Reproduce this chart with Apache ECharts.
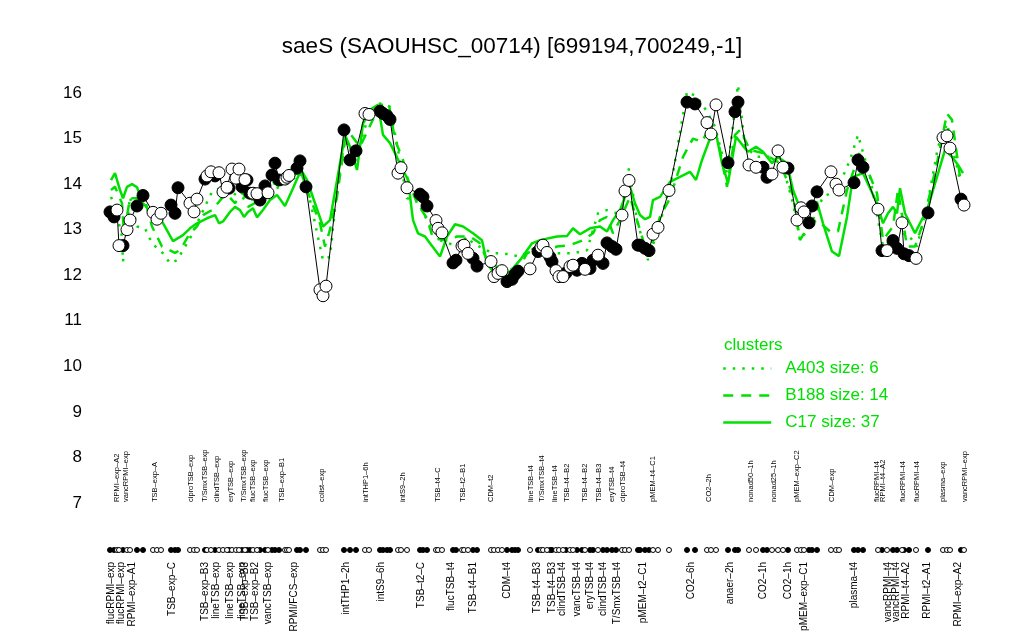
<!DOCTYPE html>
<html>
<head>
<meta charset="utf-8">
<title>saeS</title>
<script src="https://cdn.jsdelivr.net/npm/echarts@6/dist/echarts.min.js"></script>
<style>
  html, body { margin: 0; padding: 0; background: #fff; }
  #chart { width: 1024px; height: 640px; }
</style>
</head>
<body>
<div id="chart"></div>
<script>
// condition position (along the x scale), expression level, filled marker or not
var ptX = [
  110,114,117,119,123,127,130,137,143,153,
  157,161,171,175,178,190,194,197,205,207,
  211,215,219,223,227,229,232,236,239,242,
  245,247,250,253,257,260,265,268,272,275,
  279,285,287,289,297,300,306,320,323,326,
  344,350,356,365,369,380,383,387,390,398,
  401,407,420,423,427,436,438,442,453,456,
  462,464,468,473,477,491,494,498,502,507,
  512,515,518,530,538,541,543,547,550,552,
  556,559,563,566,570,573,577,582,585,590,
  593,598,603,607,612,616,622,625,629,638,
  640,645,649,653,658,669,687,695,707,711,
  716,728,735,738,749,756,763,767,772,778,
  783,788,797,801,804,809,812,817,831,836,
  839,854,858,863,878,882,887,893,897,902,
  904,909,916,928,943,947,950,961,964
];
var ptY = [
  13.39,13.28,13.43,12.65,12.65,13.00,13.21,13.52,13.75,13.38,
  13.23,13.36,13.54,13.36,13.92,13.58,13.39,13.67,14.11,14.18,
  14.27,14.18,14.25,13.83,13.93,13.91,14.33,14.13,14.33,13.94,
  14.10,14.09,13.80,13.80,13.79,13.65,13.96,13.81,14.20,14.46,
  14.09,14.11,14.15,14.19,14.35,14.51,13.94,11.68,11.55,11.76,
  15.19,14.53,14.73,15.55,15.53,15.60,15.55,15.50,15.42,14.24,
  14.36,13.92,13.78,13.72,13.52,13.20,13.03,12.93,12.27,12.33,
  12.64,12.66,12.48,12.37,12.20,12.30,11.97,12.04,12.10,11.86,
  11.91,12.02,12.09,12.14,12.52,12.62,12.66,12.50,12.40,12.30,
  12.10,11.97,11.97,12.05,12.19,12.22,12.11,12.26,12.13,12.15,
  12.33,12.44,12.26,12.71,12.63,12.57,13.32,13.85,14.08,12.66,
  12.66,12.59,12.54,12.90,13.05,13.86,15.80,15.76,15.35,15.10,
  15.74,14.47,15.59,15.80,14.42,14.37,14.37,14.15,14.22,14.73,
  14.37,14.35,13.21,13.48,13.39,13.15,13.52,13.83,14.27,14.00,
  13.87,14.03,14.53,14.37,13.45,12.54,12.54,12.76,12.59,13.15,
  12.47,12.43,12.37,13.37,15.02,15.06,14.79,13.67,13.54
];
var ptFilled = [
  1,1,0,0,1,0,0,1,1,0,
  0,0,1,1,1,0,0,0,1,0,
  0,1,0,0,0,1,0,0,0,1,
  0,1,1,0,0,1,1,0,1,1,
  1,0,0,0,1,1,1,0,0,0,
  1,1,1,0,0,1,1,1,1,0,
  0,0,1,1,1,0,0,0,1,1,
  0,0,0,1,1,0,0,0,0,1,
  1,1,1,0,1,0,0,0,1,1,
  0,0,0,1,0,0,1,1,0,1,
  1,0,1,1,1,1,0,0,0,1,
  1,1,1,0,0,0,1,1,0,0,
  0,1,1,1,0,0,1,1,0,0,
  0,1,0,0,0,1,1,1,0,0,
  0,1,1,1,0,1,0,1,1,0,
  1,1,0,1,0,0,0,1,0
];

// cluster mean profiles
var a403Profile = [
  [111,13.72],[115,13.5],[122,12.85],[123,12.3],[130,13.72],[137,13.07],[145,13.03],[152,12.7],[163,12.48],
  [170,12.26],[177,12.33],[190,12.81],[200,13.28],[212,13.83],[223,13.94],[233,13.8],[240,13.72],[247,13.65],
  [257,13.67],[270,13.87],[280,13.94],[290,14.05],[300,14.24],[310,13.65],[323,12.33],[330,12.41],[338,14.09],
  [345,14.97],[356,14.6],[370,15.6],[380,15.77],[390,15.7],[407,13.69],[417,13.65],[427,13.21],[440,12.77],
  [458,12.63],[467,12.85],[473,12.7],[493,12.48],[503,12.48],[520,12.41],[537,12.63],[553,12.48],[573,12.48],
  [587,12.55],[598,13.36],[607,13.43],[617,13.36],[622,13.5],[629,14.35],[637,13.21],[648,12.33],[660,13.14],
  [673,14.24],[687,16.03],[697,15.92],[707,15.59],[715,15.26],[727,14.24],[738,16.18],[745,14.82],[757,14.6],
  [780,14.6],[793,13.58],[800,12.77],[810,13.07],[823,13.72],[837,13.87],[850,14.53],[858,15.08],[870,14.16],
  [883,12.63],[897,12.85],[907,12.92],[917,12.63],[927,13.5],[938,14.82],[947,15.33],[960,14.09]
];
var b188Profile = [
  [111,13.87],[115,13.94],[122,13.58],[124,12.92],[130,13.69],[137,13.69],[145,13.65],[152,13.07],[162,12.63],
  [175,12.49],[180,12.55],[190,12.92],[197,13.07],[203,13.32],[212,13.43],[223,13.72],[228,13.75],[235,13.58],
  [243,13.83],[248,13.5],[257,13.61],[267,13.8],[273,14.02],[282,13.98],[290,14.09],[300,14.33],[307,13.87],
  [320,13.14],[325,12.63],[330,13.0],[337,13.72],[345,14.97],[350,15.11],[360,14.82],[380,15.74],[389,15.74],
  [395,14.97],[403,14.53],[408,14.09],[417,13.58],[427,13.25],[433,12.81],[447,12.77],[457,12.85],[470,12.85],
  [480,12.7],[487,12.33],[497,12.19],[507,12.11],[520,12.19],[527,12.48],[533,12.55],[547,12.55],[557,12.63],
  [570,12.66],[583,12.77],[593,12.92],[600,13.21],[607,13.28],[613,12.92],[620,13.21],[630,13.72],[637,13.21],
  [648,12.41],[660,13.28],[670,13.69],[683,14.6],[693,15.0],[702,14.93],[710,15.26],[718,14.97],[727,13.94],
  [735,15.08],[740,15.19],[750,14.75],[763,14.68],[780,14.46],[793,13.76],[800,12.77],[810,13.14],[817,13.21],
  [830,12.96],[838,12.96],[847,13.87],[860,14.71],[877,13.8],[883,12.77],[893,13.07],[898,13.87],[907,12.63],
  [915,12.63],[923,13.14],[937,14.46],[947,15.55],[952,15.41],[960,14.16],[964,14.09]
];
var c17Profile = [
  [111,14.09],[115,14.24],[120,13.87],[123,13.69],[127,13.94],[132,14.0],[137,13.93],[143,13.58],[152,13.36],
  [162,13.18],[173,12.75],[183,12.88],[190,13.03],[197,13.14],[207,13.25],[215,13.32],[219,13.14],[223,13.18],
  [230,13.39],[235,13.5],[240,13.43],[244,13.28],[248,13.39],[253,13.47],[257,13.27],[263,13.43],[270,13.65],
  [277,13.76],[285,13.52],[293,13.91],[301,14.31],[307,14.09],[323,13.07],[330,13.21],[345,15.08],[350,14.82],
  [357,14.31],[363,15.33],[372,15.66],[378,15.74],[383,15.08],[390,14.9],[395,14.68],[403,14.31],[408,14.09],
  [413,13.21],[418,12.92],[425,12.85],[430,12.7],[440,12.41],[447,12.85],[455,13.12],[463,13.07],[473,12.92],
  [482,12.77],[487,12.26],[493,12.08],[503,11.97],[510,12.08],[520,12.33],[532,12.7],[540,12.77],[557,12.85],
  [567,12.86],[573,13.03],[580,12.9],[590,13.03],[600,13.07],[607,12.96],[613,13.21],[620,13.43],[625,13.72],
  [630,13.94],[635,13.58],[640,13.32],[645,13.23],[650,13.28],[653,13.65],[660,13.72],[670,14.05],[680,14.16],
  [690,14.27],[696,14.09],[702,14.53],[710,15.0],[716,15.11],[722,14.46],[728,14.02],[736,15.04],[743,14.84],
  [748,14.71],[756,14.82],[763,14.71],[772,14.46],[778,14.59],[787,14.46],[793,13.87],[800,13.47],[810,13.43],
  [817,13.61],[823,13.14],[832,12.52],[839,12.42],[847,13.28],[853,14.16],[863,14.24],[877,13.58],[883,13.14],
  [888,13.36],[893,13.5],[897,13.36],[900,13.91],[905,13.36],[910,13.14],[915,12.92],[920,13.14],[927,13.43],
  [937,14.16],[945,14.75],[952,14.6],[958,14.42],[963,14.24]
];

// condition labels above and below the marker row
var topLabelX = [117,126,155,191,205,217,231,244,253,266,282,322,366,403,438,463,491,531,542,555,567,585,599,612,623,653,709,751,774,797,832,877,883,903,917,943,965];
var topLabelText = ["RPMI\u2013exp\u2013A2","vancRPMI\u2013exp","TSB\u2013exp\u2013A","ciproTSB\u2013exp","T/SmxTSB\u2013exp","clindTSB\u2013exp","eryTSB\u2013exp","T/SmxTSB\u2013exp","flucTSB\u2013exp","flucTSB\u2013exp","TSB\u2013exp\u2013B1","colist\u2013exp","intTHP1\u20136h","intS9\u20132h","TSB\u2013t4\u2013C","TSB\u2013t2\u2013B1","CDM\u2013t2","lineTSB\u2013t4","T/SmxTSB\u2013t4","lineTSB\u2013t4","TSB\u2013t4\u2013B2","TSB\u2013t4\u2013B2","TSB\u2013t4\u2013B3","eryTSB\u2013t4","ciproTSB\u2013t4","pMEM\u2013t4\u2013C1","CO2\u20132h","nonad50\u20131h","nonad25\u20131h","pMEM\u2013exp\u2013C2","CDM\u2013exp","flucRPMI\u2013t4","RPMI\u2013t4\u2013A2","flucRPMI\u2013t4","flucRPMI\u2013t4","plasma\u2013exp","vancRPMI\u2013exp"];
var bottomLabelX = [111,121,132,172,205,216,230,242,245,255,268,294,346,381,421,451,473,507,537,552,562,577,590,603,617,643,691,730,763,788,804,854,888,896,906,927,958];
var bottomLabelText = ["flucRPMI\u2013exp","flucRPMI\u2013exp","RPMI\u2013exp\u2013A1","TSB\u2013exp\u2013C","TSB\u2013exp\u2013B3","lineTSB\u2013exp","lineTSB\u2013exp","lineTSB\u2013exp","TSB\u2013exp\u2013B3","TSB\u2013exp\u2013B2","vancTSB\u2013exp","RPMI/FCS\u2013exp","intTHP1\u20132h","intS9\u20136h","TSB\u2013t2\u2013C","flucTSB\u2013t4","TSB\u2013t4\u2013B1","CDM\u2013t4","TSB\u2013t4\u2013B3","TSB\u2013t4\u2013B3","clindTSB\u2013t4","vancTSB\u2013t4","eryTSB\u2013t4","clindTSB\u2013t4","T/SmxTSB\u2013t4","pMEM\u2013t2\u2013C1","CO2\u20136h","anaer\u20132h","CO2\u20131h","CO2\u20131h","pMEM\u2013exp\u2013C1","plasma\u2013t4","vancRPMI\u2013t4","vancRPMI\u2013t4","RPMI\u2013t4\u2013A2","RPMI\u2013t2\u2013A1","RPMI\u2013exp\u2013A2"];

var yTicks = [7, 8, 9, 10, 11, 12, 13, 14, 15, 16];
var clusterNames = ["A403 size: 6", "B188 size: 14", "C17 size: 37"];

var FONT = "Liberation Sans, Arial, Helvetica, sans-serif";
var GREEN = "#00e000";

function labelLookup(xs, texts) {
  var m = {};
  xs.forEach(function (x, i) { m[x] = texts[i]; });
  return function (v) { return m[v] || ""; };
}

var linePts = ptX.map(function (x, i) { return [x, ptY[i]]; });
var filledPts = [], openPts = [], filledRow = [], openRow = [];
ptX.forEach(function (x, i) {
  if (ptFilled[i]) { filledPts.push([x, ptY[i]]); filledRow.push([x, 0.5]); }
  else { openPts.push([x, ptY[i]]); openRow.push([x, 0.5]); }
});

var myChart = echarts.init(document.getElementById("chart"));
myChart.setOption({
  animation: false,
  backgroundColor: "#fff",
  title: [
    {
      text: "saeS (SAOUHSC_00714) [699194,700249,-1]",
      left: "center",
      top: 30,
      textStyle: { fontFamily: FONT, fontSize: 22.5, fontWeight: "normal", color: "#000" }
    },
    {
      text: "clusters",
      left: 719,
      top: 332,
      textStyle: { fontFamily: FONT, fontSize: 17, fontWeight: "normal", color: GREEN }
    }
  ],
  legend: {
    data: clusterNames,
    orient: "vertical",
    left: 722,
    top: 360,
    padding: 0,
    itemWidth: 48,
    itemHeight: 14,
    itemGap: 10,
    itemStyle: { opacity: 0 },
    lineStyle: { width: 2.5 },
    textStyle: { fontFamily: FONT, fontSize: 17, color: GREEN, padding: [0, 0, 0, 9] }
  },
  grid: [
    { left: 90, right: 44, top: 93, height: 410 },
    { left: 90, right: 44, top: 545, height: 10 }
  ],
  xAxis: [
    { type: "value", gridIndex: 0, min: 90, max: 980, show: false },
    {
      type: "value", gridIndex: 1, position: "top", min: 90, max: 980,
      axisLine: { show: false }, axisTick: { show: false }, splitLine: { show: false },
      axisLabel: {
        customValues: topLabelX, formatter: labelLookup(topLabelX, topLabelText),
        rotate: 90, margin: 43, fontSize: 7.5, color: "#000", fontFamily: FONT
      }
    },
    {
      type: "value", gridIndex: 1, position: "bottom", min: 90, max: 980,
      axisLine: { show: false }, axisTick: { show: false }, splitLine: { show: false },
      axisLabel: {
        customValues: bottomLabelX, formatter: labelLookup(bottomLabelX, bottomLabelText),
        rotate: 90, margin: 7, fontSize: 10, color: "#000", fontFamily: FONT
      }
    }
  ],
  yAxis: [
    {
      type: "value", gridIndex: 0, min: 7, max: 16, interval: 1,
      axisLine: { show: false }, axisTick: { show: false }, splitLine: { show: false },
      axisLabel: {
        customValues: yTicks, margin: 8, fontSize: 17, color: "#000", fontFamily: FONT
      }
    },
    { type: "value", gridIndex: 1, min: 0, max: 1, show: false }
  ],
  series: [
    {
      name: clusterNames[0], type: "line", data: a403Profile, symbol: "none", clip: false, z: 1,
      lineStyle: { color: GREEN, width: 2.5, type: [2.5, 7] }, itemStyle: { color: GREEN }
    },
    {
      name: clusterNames[1], type: "line", data: b188Profile, symbol: "none", clip: false, z: 1,
      lineStyle: { color: GREEN, width: 2.5, type: [10, 8] }, itemStyle: { color: GREEN }
    },
    {
      name: clusterNames[2], type: "line", data: c17Profile, symbol: "none", clip: false, z: 1,
      lineStyle: { color: GREEN, width: 2.5, type: "solid" }, itemStyle: { color: GREEN }
    },
    {
      type: "line", data: linePts, symbol: "none", z: 2,
      lineStyle: { color: "#000", width: 1 }
    },
    {
      type: "scatter", data: filledPts, symbol: "circle", symbolSize: 12, z: 3,
      itemStyle: { color: "#000", borderColor: "#000", borderWidth: 1, opacity: 1 }
    },
    {
      type: "scatter", data: openPts, symbol: "circle", symbolSize: 12, z: 3,
      itemStyle: { color: "#fff", borderColor: "#000", borderWidth: 1, opacity: 1 }
    },
    {
      type: "scatter", xAxisIndex: 2, yAxisIndex: 1, data: filledRow, symbol: "circle", symbolSize: 5,
      itemStyle: { color: "#000", borderColor: "#000", borderWidth: 1, opacity: 1 }
    },
    {
      type: "scatter", xAxisIndex: 2, yAxisIndex: 1, data: openRow, symbol: "circle", symbolSize: 5,
      itemStyle: { color: "#fff", borderColor: "#000", borderWidth: 1, opacity: 1 }
    }
  ]
});
</script>
</body>
</html>
